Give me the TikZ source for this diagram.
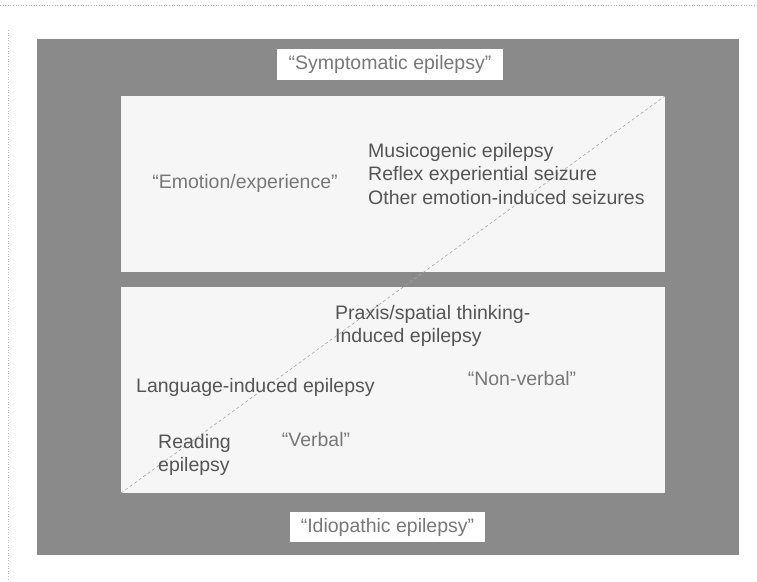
\documentclass[tikz,border=0pt]{standalone}
\usepackage{fontspec}
\setmainfont{Liberation Sans}
\usepackage{tikz}
\usetikzlibrary{positioning}
\definecolor{scangray}{RGB}{138,138,138}
\definecolor{paperwhite}{RGB}{246,246,246}
\definecolor{inkgray}{RGB}{85,85,85}
\definecolor{quotegray}{RGB}{120,120,120}

\begin{document}
\begin{tikzpicture}[x=1pt,y=-1pt,
    txt/.style={font=\fontsize{19.5}{23.5}\selectfont,text=inkgray,inner sep=0pt,align=left},
    quot/.style={txt,text=quotegray},
    tag/.style={quot,fill=white,inner sep=0pt}]
    \useasboundingbox (0,0) rectangle (757,581);
    % scan edges
    \draw[gray!60,dotted,line width=0.6pt] (0,5) -- (757,5);
    \draw[gray!50,dotted,line width=0.6pt] (8,30) -- (8,581);
    % grey frame and the two white panels
    \fill[scangray] (37,39) rectangle (739,555);
    \fill[paperwhite] (121,96) rectangle (665,272);
    \fill[paperwhite] (121,287) rectangle (665,493);
    \coordinate (lowSW) at (121,493);
    \coordinate (upNE) at (665,96);
    \draw[gray!70,line width=0.6pt,dash pattern=on 3pt off 2.5pt] (lowSW) -- (upNE);
    % labels on the frame
    \node[tag,minimum width=226pt,minimum height=31pt] (sympt) at (390,64.5) {“Symptomatic epilepsy”};
    \node[tag,minimum width=195pt,minimum height=30pt] (idio) at (387.5,527) {“Idiopathic epilepsy”};
    % upper panel
    \node[quot] (emotion) at (245,183) {“Emotion/experience”};
    \node[txt,anchor=west] (emolist) at (368,174) {Musicogenic epilepsy\\Reflex experiential seizure\\Other emotion-induced seizures};
    % lower panel
    \node[txt,anchor=west] (praxis) at (335,326) {Praxis/spatial thinking-\\Induced epilepsy};
    \node[txt,anchor=west] (lang) at (136,387) {Language-induced epilepsy};
    \node[quot] (nonverbal) at (522,379) {“Non-verbal”};
    \node[txt,anchor=west] (reading) at (158,455) {Reading\\epilepsy};
    \node[quot] (verbal) at (316,440) {“Verbal”};
  \end{tikzpicture}
\end{document}
